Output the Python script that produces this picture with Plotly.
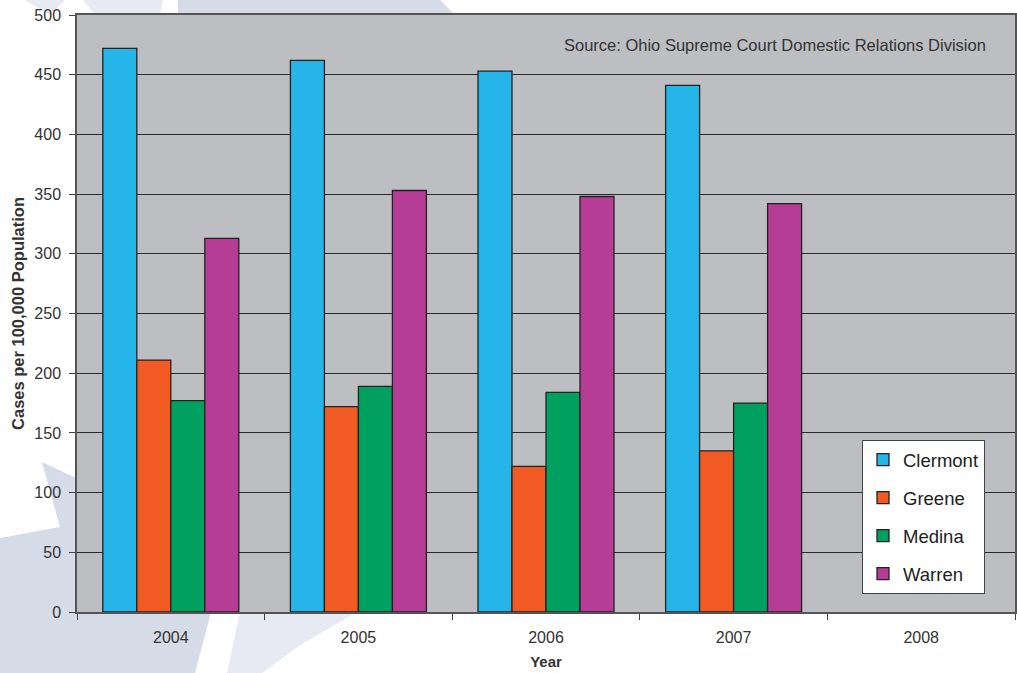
import plotly.graph_objects as go

years = ["2004", "2005", "2006", "2007", "2008"]
clermont = [472, 462, 453, 441]
greene = [211, 172, 122, 135]
medina = [177, 189, 184, 175]
warren = [313, 353, 348, 342]

series = [
    ("Clermont", clermont, "#25b5e9"),
    ("Greene", greene, "#f15a22"),
    ("Medina", medina, "#00a160"),
    ("Warren", warren, "#b53d96"),
]

W, H = 1017, 673
L, R, T, B = 77, 1015, 15, 612


def px(x, y):
    return (x - L) / (R - L), (B - y) / (B - T)


def poly(points):
    pts = [px(x, y) for x, y in points]
    return "M " + " L ".join(f"{a:.5f},{b:.5f}" for a, b in pts) + " Z"


fig = go.Figure()
for i, (name, vals, col) in enumerate(series):
    fig.add_trace(go.Bar(
        x=years[:len(vals)], y=vals, name=name,
        marker=dict(color=col, line=dict(color="#222222", width=1.3)),
        legendgroup=name,
    ))

dark = "#d5dbe7"
light = "#e7eaf3"
shapes = []
for pts, col in [
    ([(25, 0), (65, 0), (50, 15)], light),
    ([(83, 0), (163, 0), (160, 15), (95, 15)], light),
    ([(178, 0), (440, 0), (455, 15), (178, 15)], dark),
    ([(0, 538), (60, 527), (42, 462), (80, 480), (80, 612), (211, 612), (195, 673), (0, 673)], dark),
    ([(240, 612), (357, 612), (300, 645), (262, 673), (227, 673)], light),
]:
    shapes.append(dict(type="path", path=poly(pts), xref="paper", yref="paper",
                       fillcolor=col, line=dict(width=0), layer="below"))
shapes.append(dict(type="rect", xref="paper", yref="paper", x0=0, x1=1, y0=0, y1=1,
                   fillcolor="#bdbec2", line=dict(width=0), layer="below"))

fig.update_layout(
    width=W, height=H,
    margin=dict(l=L, r=W - R, t=T, b=H - B, autoexpand=False),
    paper_bgcolor="white",
    plot_bgcolor="#bdbec2",
    barmode="group", bargap=0.275, bargroupgap=0,
    font=dict(family="Liberation Sans, Arial, sans-serif", color="#333333", size=15),
    shapes=shapes,
    showlegend=True,
    legend=dict(x=px(862, 0)[0], y=px(0, 440)[1], xanchor="left", yanchor="top",
                bgcolor="white", bordercolor="#444444", borderwidth=1,
                font=dict(size=18.5, color="#222222"), tracegroupgap=11,
                itemwidth=30),
    annotations=[dict(text="Source: Ohio Supreme Court Domestic Relations Division",
                      xref="paper", yref="paper", x=px(988, 0)[0], y=px(0, 45)[1],
                      xanchor="right", yanchor="middle", showarrow=False,
                      font=dict(size=16.5, color="#333333"))],
)
fig.update_xaxes(
    type="category", categoryorder="array", categoryarray=years,
    range=[-0.5, 4.5], tickson="boundaries", ticks="outside", ticklen=6,
    tickcolor="#444444", showline=True, linecolor="#555555", linewidth=1.5, mirror=True,
    showgrid=False, tickfont=dict(size=16, color="#333333"), ticklabelstandoff=10,
    title=dict(text="<b>Year</b>", font=dict(size=15, color="#333333"), standoff=12),
)
fig.update_yaxes(
    range=[0, 500], dtick=50, ticks="outside", ticklen=6, tickcolor="#444444",
    showline=True, linecolor="#555555", linewidth=1.5, mirror=True,
    showgrid=True, gridcolor="#2a2a2a", gridwidth=1, zeroline=False,
    tickfont=dict(size=16, color="#333333"), ticklabelstandoff=5,
    title=dict(text="<b>Cases per 100,000 Population</b>", font=dict(size=16.5, color="#333333"), standoff=6),
)

fig.write_html("out.html", config={"displayModeBar": False},
               post_script="document.body.style.margin='0';document.body.style.overflow='hidden';")
